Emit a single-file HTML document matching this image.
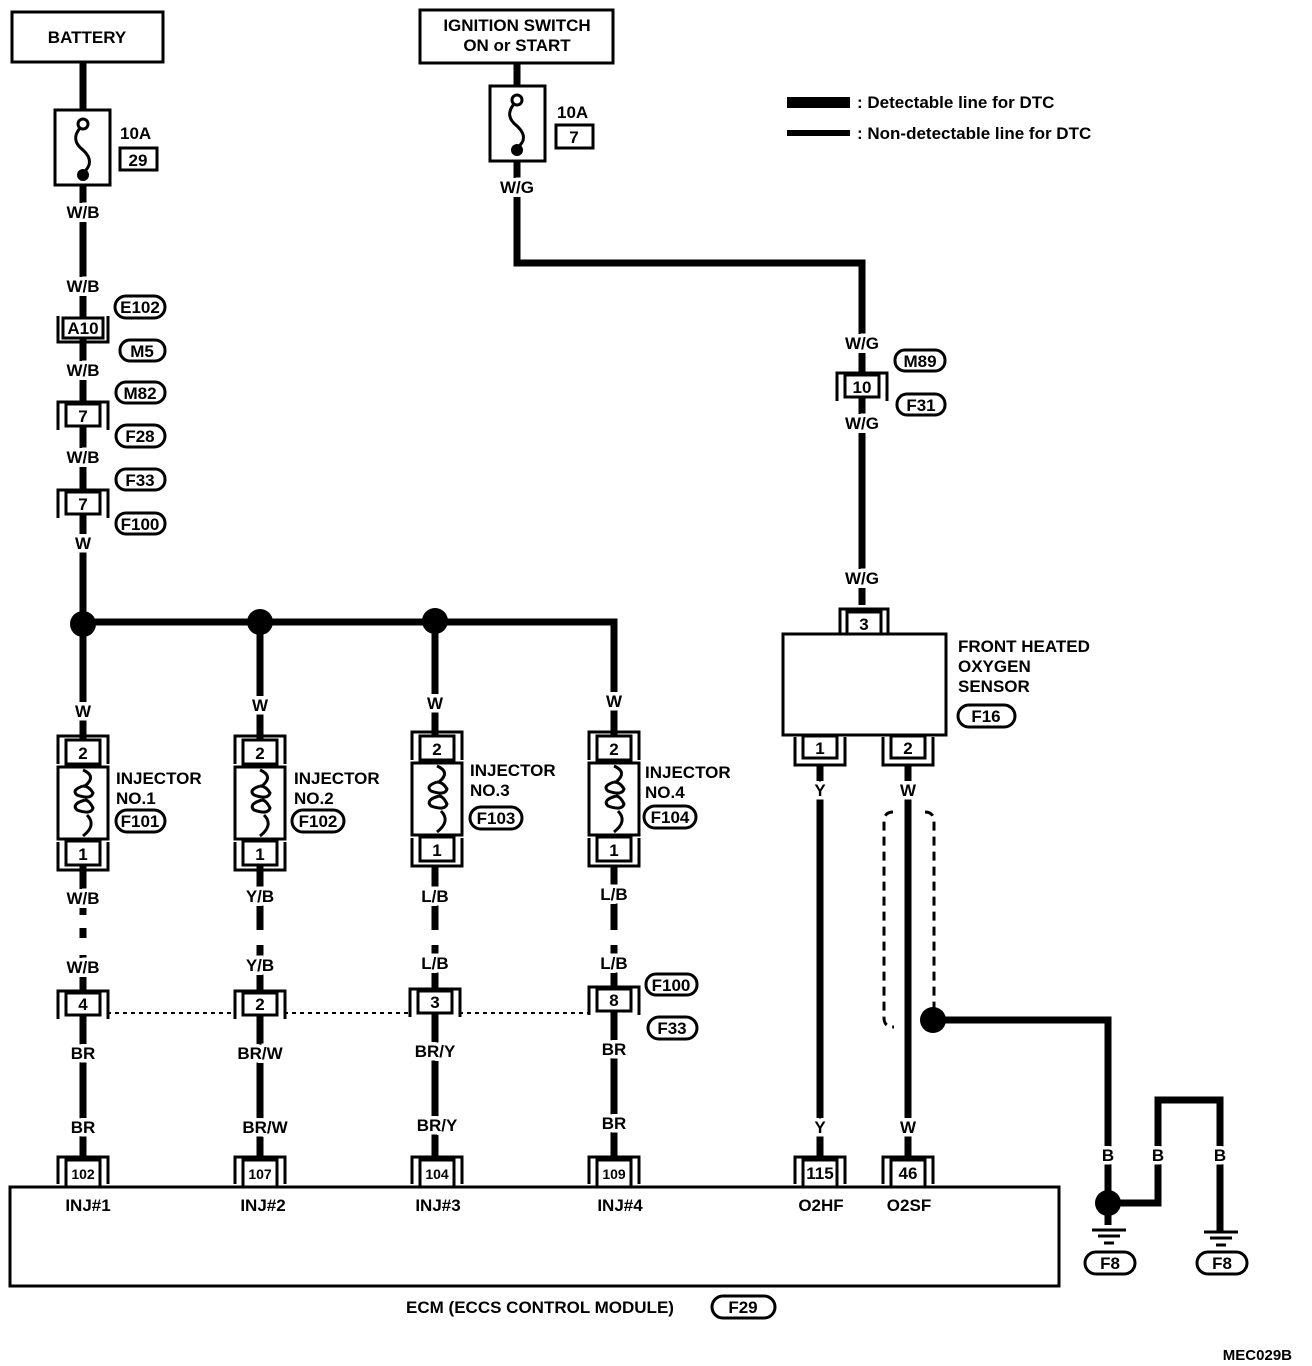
<!DOCTYPE html>
<html><head><meta charset="utf-8"><style>
html,body{margin:0;padding:0;background:#fff}
svg{display:block}
text{font-family:"Liberation Sans",Arial,sans-serif;font-weight:bold;font-size:17px;fill:#000}
.l{stroke:#fff;stroke-width:7px;paint-order:stroke;text-anchor:middle}
.c{text-anchor:middle}
.w{stroke:#000;stroke-width:7;fill:none}
.t{stroke:#000;stroke-width:3;fill:none}
.o{stroke:#000;stroke-width:3;fill:#fff}
</style></head><body>
<svg width="1312" height="1366" viewBox="0 0 1312 1366" xmlns="http://www.w3.org/2000/svg">
<path class="w" d="M83 62 V110 M83 185 V622 M83 622 H614 V740 M83 622 V740 M260 622 V740 M435 622 V740"/>
<path class="w" d="M83 866 V1160 M260 866 V1160 M435 866 V1160 M614 866 V1160"/>
<path class="w" d="M517 63 V88 M517 160 V263 H862 V605"/>
<path class="w" d="M820 765 V1160 M908 765 V1160"/>
<path class="w" d="M933 1020 H1108 V1203 M1108 1203 H1158 V1100 H1220 V1232 M1108 1203 V1225"/>
<g stroke="#fff" stroke-width="12">
<path d="M83 915 V928 M83 938 V955 M260 930 V945 M435 930 V945 M614 930 V945"/>
</g>
<path d="M107 1013 H236 M284 1013 H411 M459 1013 H590" stroke="#000" stroke-width="2" stroke-dasharray="4,4"/>
<path d="M893 812 Q884 812 884 822 V1018 Q884 1027 894 1027 M925 812 Q934 812 934 822 V1008" stroke="#000" stroke-width="3" stroke-dasharray="9,6" fill="none"/>
<circle cx="83" cy="624" r="13"/><circle cx="260" cy="622" r="13"/><circle cx="435" cy="621" r="13"/>
<circle cx="933" cy="1020" r="13"/><circle cx="1108" cy="1203" r="13"/>
<rect class="o" x="12" y="12" width="151" height="50"/>
<text class="c" x="87" y="43">BATTERY</text>
<rect class="o" x="55" y="110" width="55" height="75"/>
<circle cx="83" cy="124" r="5" class="o"/>
<path class="t" d="M80 128 Q70 140 83 150 Q96 162 83 173"/>
<circle cx="83" cy="175" r="6"/>
<text x="120" y="139">10A</text>
<rect class="t" x="120" y="148" width="37" height="22"/><text class="c" x="138" y="166">29</text>
<text class="l" x="83" y="218">W/B</text>
<text class="l" x="83" y="292">W/B</text>
<text class="l" x="83" y="376">W/B</text>
<text class="l" x="83" y="463">W/B</text>
<text class="l" x="83" y="549">W</text>
<g transform="translate(83,318)"><rect class="o" x="-20" y="0" width="40" height="20"/><path class="t" d="M-25 -2 V24 H25 V-2"/><text class="c" x="0" y="16">A10</text></g>
<g transform="translate(83,404)"><path class="t" d="M-25 26 V-2 H25 V26"/><rect class="o" x="-17" y="0" width="34" height="22"/><text class="c" x="0" y="18">7</text></g>
<g transform="translate(83,492)"><path class="t" d="M-25 26 V-2 H25 V26"/><rect class="o" x="-17" y="0" width="34" height="22"/><text class="c" x="0" y="18">7</text></g>
<g>
<rect class="t" x="115" y="296" width="50" height="22" rx="11"/><text class="c" x="140" y="313">E102</text>
<rect class="t" x="120" y="340" width="45" height="21" rx="10"/><text class="c" x="142" y="357">M5</text>
<rect class="t" x="116" y="382" width="49" height="21" rx="10"/><text class="c" x="140" y="399">M82</text>
<rect class="t" x="116" y="425" width="49" height="22" rx="11"/><text class="c" x="140" y="442">F28</text>
<rect class="t" x="116" y="469" width="49" height="21" rx="10"/><text class="c" x="140" y="486">F33</text>
<rect class="t" x="116" y="513" width="49" height="21" rx="10"/><text class="c" x="140" y="530">F100</text>
</g>
<rect class="o" x="420" y="10" width="193" height="53"/>
<text class="c" x="517" y="31">IGNITION SWITCH</text>
<text class="c" x="517" y="51">ON or START</text>
<rect class="o" x="490" y="86" width="55" height="75"/>
<circle cx="517" cy="100" r="5" class="o"/>
<path class="t" d="M514 104 Q504 116 517 126 Q530 138 517 148"/>
<circle cx="517" cy="150" r="6"/>
<text x="557" y="118">10A</text>
<rect class="t" x="556" y="125" width="37" height="23"/><text class="c" x="574" y="143">7</text>
<text class="l" x="517" y="193">W/G</text>
<text class="l" x="862" y="349">W/G</text>
<text class="l" x="862" y="429">W/G</text>
<text class="l" x="862" y="584">W/G</text>
<g transform="translate(862,375)"><path class="t" d="M-25 26 V-2 H25 V26"/><rect class="o" x="-17" y="0" width="34" height="22"/><text class="c" x="0" y="18">10</text></g>
<rect class="t" x="895" y="350" width="50" height="21" rx="10"/><text class="c" x="920" y="367">M89</text>
<rect class="t" x="897" y="394" width="48" height="21" rx="10"/><text class="c" x="921" y="411">F31</text>
<rect x="787" y="97" width="63" height="11"/>
<rect x="787" y="130" width="63" height="6"/>
<text x="857" y="108">: Detectable line for DTC</text>
<text x="857" y="139">: Non-detectable line for DTC</text>
<g transform="translate(864,612)"><path class="t" d="M-24 22 V-3 H24 V22"/><rect class="o" x="-17" y="0" width="34" height="24"/><text class="c" x="0" y="18">3</text></g>
<rect class="o" x="783" y="634" width="163" height="101"/>
<g transform="translate(820,737)"><path class="t" d="M-25 0 V28 H25 V0"/><rect class="o" x="-17" y="-1" width="34" height="22"/><text class="c" x="0" y="17">1</text></g>
<g transform="translate(908,737)"><path class="t" d="M-25 0 V28 H25 V0"/><rect class="o" x="-17" y="-1" width="34" height="22"/><text class="c" x="0" y="17">2</text></g>
<text x="958" y="652">FRONT HEATED</text>
<text x="958" y="672">OXYGEN</text>
<text x="958" y="692">SENSOR</text>
<rect class="t" x="958" y="705" width="57" height="22" rx="11"/><text class="c" x="986" y="722">F16</text>
<text class="l" x="820" y="796">Y</text>
<text class="l" x="908" y="796">W</text>
<text class="l" x="820" y="1133">Y</text>
<text class="l" x="908" y="1133">W</text>
<g transform="translate(83,0)">
<path class="t" d="M-25 764 V736 H25 V764"/><rect class="o" x="-17" y="740" width="34" height="24"/><text class="c" x="0" y="759">2</text>
<rect class="o" x="-25" y="767" width="50" height="72"/>
<path class="t" d="M0 770 Q14 776 2 786 M0 786 Q-12 790 -6 795 Q8 800 10 793 Q6 786 0 786 M2 800 Q-12 804 -6 810 Q8 815 10 808 Q6 800 2 800 M4 815 Q14 825 0 836"/>
<path class="t" d="M-25 842 V870 H25 V842"/><rect class="o" x="-17" y="841" width="34" height="24"/><text class="c" x="0" y="860">1</text>
</g>
<g transform="translate(260,0)">
<path class="t" d="M-25 764 V736 H25 V764"/><rect class="o" x="-17" y="740" width="34" height="24"/><text class="c" x="0" y="759">2</text>
<rect class="o" x="-25" y="767" width="50" height="72"/>
<path class="t" d="M0 770 Q14 776 2 786 M0 786 Q-12 790 -6 795 Q8 800 10 793 Q6 786 0 786 M2 800 Q-12 804 -6 810 Q8 815 10 808 Q6 800 2 800 M4 815 Q14 825 0 836"/>
<path class="t" d="M-25 842 V870 H25 V842"/><rect class="o" x="-17" y="841" width="34" height="24"/><text class="c" x="0" y="860">1</text>
</g>
<g transform="translate(437,-4)">
<path class="t" d="M-25 764 V736 H25 V764"/><rect class="o" x="-17" y="740" width="34" height="24"/><text class="c" x="0" y="759">2</text>
<rect class="o" x="-25" y="767" width="50" height="72"/>
<path class="t" d="M0 770 Q14 776 2 786 M0 786 Q-12 790 -6 795 Q8 800 10 793 Q6 786 0 786 M2 800 Q-12 804 -6 810 Q8 815 10 808 Q6 800 2 800 M4 815 Q14 825 0 836"/>
<path class="t" d="M-25 842 V870 H25 V842"/><rect class="o" x="-17" y="841" width="34" height="24"/><text class="c" x="0" y="860">1</text>
</g>
<g transform="translate(614,-4)">
<path class="t" d="M-25 764 V736 H25 V764"/><rect class="o" x="-17" y="740" width="34" height="24"/><text class="c" x="0" y="759">2</text>
<rect class="o" x="-25" y="767" width="50" height="72"/>
<path class="t" d="M0 770 Q14 776 2 786 M0 786 Q-12 790 -6 795 Q8 800 10 793 Q6 786 0 786 M2 800 Q-12 804 -6 810 Q8 815 10 808 Q6 800 2 800 M4 815 Q14 825 0 836"/>
<path class="t" d="M-25 842 V870 H25 V842"/><rect class="o" x="-17" y="841" width="34" height="24"/><text class="c" x="0" y="860">1</text>
</g>
<text x="116" y="784">INJECTOR</text><text x="116" y="804">NO.1</text>
<rect class="t" x="116" y="810" width="49" height="22" rx="11"/><text class="c" x="140" y="827">F101</text>
<text x="294" y="784">INJECTOR</text><text x="294" y="804">NO.2</text>
<rect class="t" x="292" y="810" width="52" height="22" rx="11"/><text class="c" x="318" y="827">F102</text>
<text x="470" y="776">INJECTOR</text><text x="470" y="796">NO.3</text>
<rect class="t" x="470" y="807" width="52" height="22" rx="11"/><text class="c" x="496" y="824">F103</text>
<text x="645" y="778">INJECTOR</text><text x="645" y="798">NO.4</text>
<rect class="t" x="644" y="806" width="52" height="22" rx="11"/><text class="c" x="670" y="823">F104</text>
<text class="l" x="83" y="717">W</text><text class="l" x="260" y="711">W</text><text class="l" x="435" y="709">W</text><text class="l" x="614" y="707">W</text>
<text class="l" x="83" y="904">W/B</text><text class="l" x="260" y="902">Y/B</text><text class="l" x="435" y="902">L/B</text><text class="l" x="614" y="900">L/B</text>
<text class="l" x="83" y="973">W/B</text><text class="l" x="260" y="971">Y/B</text><text class="l" x="435" y="969">L/B</text><text class="l" x="614" y="969">L/B</text>
<g transform="translate(83,993)"><path class="t" d="M-25 26 V-2 H25 V26"/><rect class="o" x="-17" y="0" width="34" height="22"/><text class="c" x="0" y="17">4</text></g>
<g transform="translate(260,993)"><path class="t" d="M-25 26 V-2 H25 V26"/><rect class="o" x="-17" y="0" width="34" height="22"/><text class="c" x="0" y="17">2</text></g>
<g transform="translate(435,991)"><path class="t" d="M-25 26 V-2 H25 V26"/><rect class="o" x="-17" y="0" width="34" height="22"/><text class="c" x="0" y="17">3</text></g>
<g transform="translate(614,989)"><path class="t" d="M-25 26 V-2 H25 V26"/><rect class="o" x="-17" y="0" width="34" height="22"/><text class="c" x="0" y="17">8</text></g>
<rect class="t" x="646" y="974" width="51" height="21" rx="10"/><text class="c" x="671" y="991">F100</text>
<rect class="t" x="648" y="1017" width="49" height="22" rx="11"/><text class="c" x="672" y="1034">F33</text>
<text class="l" x="83" y="1059">BR</text><text class="l" x="260" y="1059">BR/W</text><text class="l" x="435" y="1057">BR/Y</text><text class="l" x="614" y="1055">BR</text>
<text class="l" x="83" y="1133">BR</text><text class="l" x="265" y="1133">BR/W</text><text class="l" x="437" y="1131">BR/Y</text><text class="l" x="614" y="1129">BR</text>
<rect class="o" x="10" y="1187" width="1049" height="99"/>
<g transform="translate(83,1160)"><path class="t" d="M-25 24 V-3 H25 V24"/><rect class="o" x="-17" y="0" width="34" height="27"/><text class="c" x="0" y="19" style="font-size:14px">102</text></g>
<g transform="translate(260,1160)"><path class="t" d="M-25 24 V-3 H25 V24"/><rect class="o" x="-17" y="0" width="34" height="27"/><text class="c" x="0" y="19" style="font-size:14px">107</text></g>
<g transform="translate(437,1160)"><path class="t" d="M-25 24 V-3 H25 V24"/><rect class="o" x="-17" y="0" width="34" height="27"/><text class="c" x="0" y="19" style="font-size:14px">104</text></g>
<g transform="translate(614,1160)"><path class="t" d="M-25 24 V-3 H25 V24"/><rect class="o" x="-17" y="0" width="34" height="27"/><text class="c" x="0" y="19" style="font-size:14px">109</text></g>
<g transform="translate(820,1160)"><path class="t" d="M-25 24 V-3 H25 V24"/><rect class="o" x="-17" y="0" width="34" height="27"/><text class="c" x="0" y="19">115</text></g>
<g transform="translate(908,1160)"><path class="t" d="M-25 24 V-3 H25 V24"/><rect class="o" x="-17" y="0" width="34" height="27"/><text class="c" x="0" y="19">46</text></g>
<text class="c" x="88" y="1211">INJ#1</text>
<text class="c" x="263" y="1211">INJ#2</text>
<text class="c" x="438" y="1211">INJ#3</text>
<text class="c" x="620" y="1211">INJ#4</text>
<text class="c" x="821" y="1211">O2HF</text>
<text class="c" x="909" y="1211">O2SF</text>
<text class="c" x="540" y="1313">ECM (ECCS CONTROL MODULE)</text>
<rect class="t" x="712" y="1296" width="63" height="22" rx="11"/><text class="c" x="743" y="1313">F29</text>
<text class="l" x="1108" y="1161">B</text><text class="l" x="1158" y="1161">B</text><text class="l" x="1220" y="1161">B</text>
<path d="M1092 1230 H1126 M1098 1236 H1120 M1104 1243 H1114 M1204 1232 H1238 M1210 1238 H1232 M1216 1245 H1226" stroke="#000" stroke-width="3"/>
<rect class="t" x="1085" y="1252" width="50" height="22" rx="11"/><text class="c" x="1110" y="1269">F8</text>
<rect class="t" x="1197" y="1252" width="50" height="22" rx="11"/><text class="c" x="1222" y="1269">F8</text>
<text x="1292" y="1360" style="text-anchor:end;font-size:15px">MEC029B</text>
</svg>
</body></html>
